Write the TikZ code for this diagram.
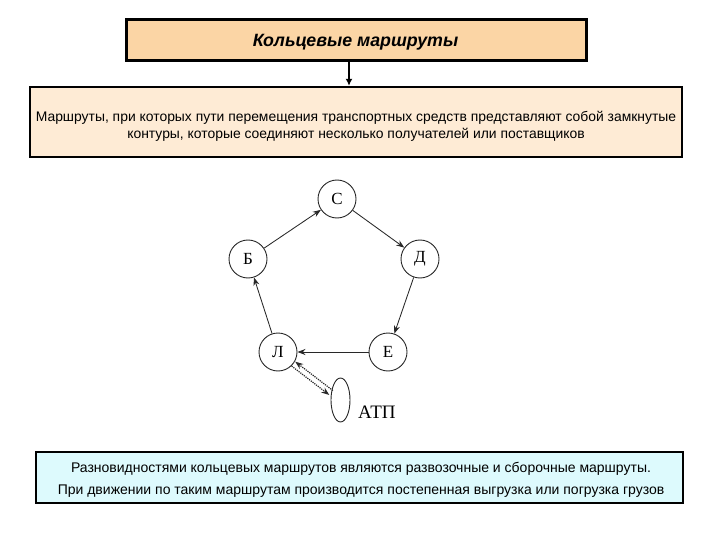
\documentclass[tikz,border=0pt]{standalone}
\usepackage{fontspec}
\setmainfont{Liberation Sans}
\newfontfamily\serifcyr{Liberation Serif}
\usetikzlibrary{arrows.meta,shapes.geometric}
\definecolor{titlefill}{RGB}{251,213,165}
\definecolor{deffill}{RGB}{254,235,213}
\definecolor{notefill}{RGB}{221,250,253}
\definecolor{inkgray}{RGB}{40,40,40}
\tikzset{
  boxstyle/.style={draw=black, line width=2.4pt, inner sep=0pt, align=center},
  gnode/.style={circle, draw=inkgray, line width=0.9pt, minimum size=38pt, inner sep=0pt, font=\serifcyr\fontsize{17}{17}\selectfont},
  garrow/.style={draw=inkgray, line width=0.85pt, -{Stealth[length=8pt,width=6pt]}},
  dotarrow/.style={draw=inkgray, line width=1.2pt, densely dotted, -{Stealth[length=8pt,width=6pt]}},
}
\begin{document}
\begin{tikzpicture}[x=1pt,y=-1pt]
\useasboundingbox[fill=white] (0,0) rectangle (720,540);

\node[boxstyle, fill=titlefill, minimum width=460pt, minimum height=41pt] (title) at (356.5,40) {};
\node[font=\bfseries\itshape\fontsize{17.8}{20}\selectfont] (titletext) at (355.5,42.5) {Кольцевые маршруты};

\node[boxstyle, fill=deffill, minimum width=652pt, minimum height=70pt] (def) at (356,122) {};
\node[align=center, font=\fontsize{13.9}{17}\selectfont] (deftext) at (356,126)
  {Маршруты, при которых пути перемещения транспортных средств представляют собой замкнутые\\
   контуры, которые соединяют несколько получателей или поставщиков};

\coordinate (ax) at (349,0);
\draw[line width=2pt, -{Latex[length=7pt,width=7pt]}] (ax |- title.south) -- (ax |- def.north);

\node[boxstyle, fill=notefill, minimum width=647pt, minimum height=51pt] (note) at (359.5,477.5) {};
\node[align=center, font=\fontsize{14}{22}\selectfont] (notetext) at (361,479.5)
  {Разновидностями кольцевых маршрутов являются развозочные и сборочные маршруты.\\
   При движении по таким маршрутам производится постепенная выгрузка или погрузка грузов};

\node[gnode] (C) at (337,199) {С};
\node[gnode] (B) at (248,259) {Б};
\node[gnode] (D) at (420,259) {Д};
\node[gnode] (A) at (278,352) {Л};
\node[gnode] (E) at (388,352) {Е};
\node[ellipse, draw=inkgray, line width=0.9pt, minimum width=19pt, minimum height=44pt, inner sep=0pt] (atp) at (340.5,400) {};
\node[font=\serifcyr\fontsize{19}{19}\selectfont, anchor=base west, inner sep=0pt] (atpl) at (358,418) {АТП};

\draw[garrow] (B) -- (C);
\draw[garrow] (C) -- (D);
\draw[garrow] (D) -- (E);
\draw[garrow] (E) -- (A);
\draw[garrow] (A) -- (B);
\draw[dotarrow, transform canvas={shift={(1.8pt,2.2pt)}}] (atp) -- (A);
\draw[dotarrow, transform canvas={shift={(-1.8pt,-2.2pt)}}] (A) -- (atp);
\end{tikzpicture}
\end{document}
